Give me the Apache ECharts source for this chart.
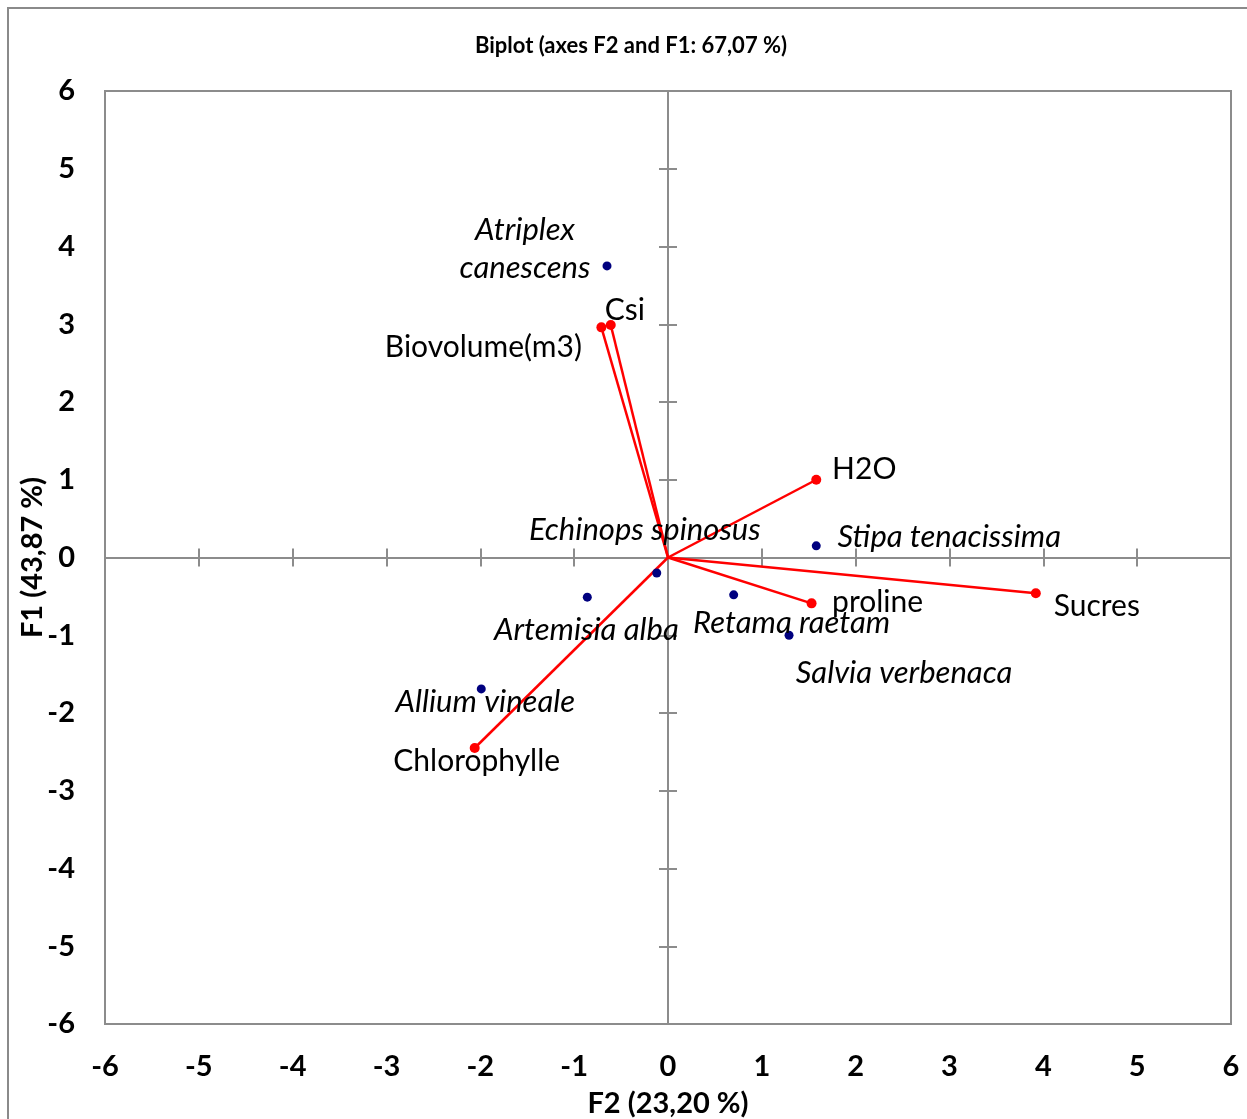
<!DOCTYPE html>
<html><head><meta charset="utf-8">
<script src="https://cdn.jsdelivr.net/npm/echarts@6/dist/echarts.min.js"></script>
<style>html,body{margin:0;padding:0;background:#fff}#c{width:1247px;height:1119px}</style>
</head><body><div id="c"></div>
<script>
// Observations (species)
const obsNames = ['Atriplex\ncanescens','Echinops spinosus','Stipa tenacissima','Artemisia alba','Retama raetam','Salvia verbenaca','Allium vineale'];
const obsF2 = [-0.65, -0.12, 1.58, -0.86, 0.70, 1.29, -1.99];
const obsF1 = [3.75, -0.20, 0.15, -0.51, -0.48, -1.00, -1.69];
// Variables (vectors)
const varNames = ['Biovolume(m3)','Csi','H2O','Sucres','proline','Chlorophylle'];
const varF2 = [-0.71, -0.61, 1.58, 3.92, 1.53, -2.06];
const varF1 = [2.96, 2.99, 1.00, -0.46, -0.59, -2.45];
const ticks = [-6,-5,-4,-3,-2,-1,0,1,2,3,4,5,6];

// label placement (px offsets from the mark)
const obsLabelOffset = {
  'Atriplex\ncanescens':[-82,-17], 'Echinops spinosus':[-12,-43], 'Stipa tenacissima':[133,-9],
  'Artemisia alba':[-1,33], 'Retama raetam':[58,28], 'Salvia verbenaca':[115,38], 'Allium vineale':[4,13]
};
const varLabelOffset = {
  'Biovolume(m3)':[-118,20], 'Csi':[14,-15], 'H2O':[48,-10], 'Sucres':[61,13], 'proline':[66,-1], 'Chlorophylle':[2,13]
};

const FONT = 'Lato';
const chart = echarts.init(document.getElementById('c'), null, {renderer:'canvas'});
const axisCommon = {type:'value', min:ticks[0], max:ticks[ticks.length-1], interval:1, splitLine:{show:false}};
const gray = '#8c8c8c';

const obsData = obsNames.map((n,i)=>({name:n, value:[obsF2[i], obsF1[i]],
  label:{offset:obsLabelOffset[n]}}));
const varData = varNames.map((n,i)=>({name:n, value:[varF2[i], varF1[i]],
  label:{offset:varLabelOffset[n]}}));
const vecData = varNames.map((n,i)=>({coords:[[0,0],[varF2[i], varF1[i]]]}));

chart.setOption({
  animation:false,
  backgroundColor:'#fff',
  textStyle:{fontFamily:FONT},
  title:{text:'Biplot (axes F2 and F1: 67,07 %)', left:626, top:30, textAlign:'center',
    textStyle:{fontFamily:FONT, fontSize:22, fontWeight:'bold', color:'#000'}},
  graphic:[{type:'rect', shape:{x:8, y:8, width:1260, height:1140}, style:{fill:null, stroke:'#8a8a8a', lineWidth:2}, silent:true}],
  grid:{left:105, top:91, width:1126, height:933, show:true, borderColor:gray, borderWidth:2, containLabel:false, outerBoundsMode:'none'},
  xAxis:[
    Object.assign({}, axisCommon, {position:'bottom', axisLine:{show:false, onZero:false}, axisTick:{show:false},
      axisLabel:{margin:28, fontFamily:FONT, fontSize:29, fontWeight:'bold', color:'#000'},
      name:'F2 (23,20 %)', nameLocation:'middle', nameGap:65, nameMoveOverlap:false,
      nameTextStyle:{fontFamily:FONT, fontSize:29, fontWeight:'bold', color:'#000'}}),
    Object.assign({}, axisCommon, {axisLine:{show:true, onZero:true, lineStyle:{color:gray, width:2}},
      axisTick:{show:true, length:9, lineStyle:{color:gray, width:2}}, axisLabel:{show:false}}),
    Object.assign({}, axisCommon, {axisLine:{show:false, onZero:true},
      axisTick:{show:true, inside:true, length:9, lineStyle:{color:gray, width:2}}, axisLabel:{show:false}})
  ],
  yAxis:[
    Object.assign({}, axisCommon, {position:'left', axisLine:{show:false, onZero:false}, axisTick:{show:false},
      axisLabel:{margin:30, fontFamily:FONT, fontSize:29, fontWeight:'bold', color:'#000'},
      name:'F1 (43,87 %)', nameLocation:'middle', nameGap:58, nameRotate:90, nameMoveOverlap:false,
      nameTextStyle:{fontFamily:FONT, fontSize:29, fontWeight:'bold', color:'#000'}}),
    Object.assign({}, axisCommon, {axisLine:{show:true, onZero:true, lineStyle:{color:gray, width:2}},
      axisTick:{show:true, length:9, lineStyle:{color:gray, width:2}}, axisLabel:{show:false}}),
    Object.assign({}, axisCommon, {axisLine:{show:false, onZero:true},
      axisTick:{show:true, inside:true, length:9, lineStyle:{color:gray, width:2}}, axisLabel:{show:false}})
  ],
  series:[
    {type:'lines', coordinateSystem:'cartesian2d', xAxisIndex:0, yAxisIndex:0, data:vecData,
      lineStyle:{color:'#ff0000', width:2.5, opacity:1}, symbol:'none', z:3},
    {type:'scatter', xAxisIndex:0, yAxisIndex:0, data:varData, symbol:'circle', symbolSize:10,
      itemStyle:{color:'#ff0000', opacity:1}, z:4,
      label:{show:true, position:'inside', formatter:'{b}', fontFamily:FONT, fontSize:30, color:'#000'}},
    {type:'scatter', xAxisIndex:0, yAxisIndex:0, data:obsData, symbol:'circle', symbolSize:9,
      itemStyle:{color:'#00007f', opacity:1}, z:4,
      label:{show:true, position:'inside', formatter:'{b}', fontFamily:FONT, fontStyle:'italic', fontSize:31, color:'#000', lineHeight:38, align:'center'}}
  ]
});
</script></body></html>
